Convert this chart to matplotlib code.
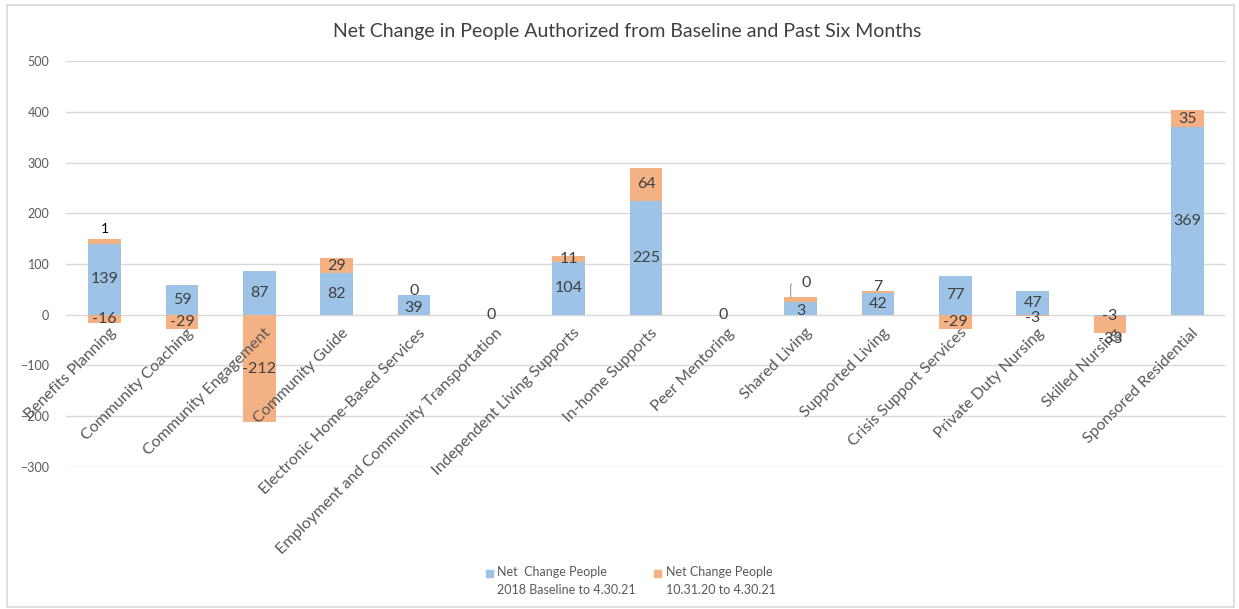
import matplotlib.pyplot as plt
from matplotlib.patches import Rectangle

plt.rcParams['font.family'] = ['Lato', 'DejaVu Sans']

categories = ['Benefits Planning', 'Community Coaching', 'Community Engagement',
              'Community Guide', 'Electronic Home-Based Services',
              'Employment and Community Transportation', 'Independent Living Supports',
              'In-home Supports', 'Peer Mentoring', 'Shared Living', 'Supported Living',
              'Crisis Support Services', 'Private Duty Nursing', 'Skilled Nursing',
              'Sponsored Residential']

# bar heights as drawn
blue = [139, 59, 87, 82, 39, 0, 104, 225, 0, 25, 42, 77, 47, -3, 369]
orange_up = [11, 0, 0, 29, 0, 0, 11, 64, 0, 9, 5, 0, 0, 0, 35]
orange_down = [-16, -29, -212, 0, 0, 0, 0, 0, 0, 0, 0, -29, -3, -33, 0]

# data label texts
blue_labels = ['139', '59', '87', '82', '39', '0', '104', '225', '0', '3', '42', '77', '47', '-3', '369']
up_labels = ['1', '', '', '29', '0', '', '11', '64', '', '0', '7', '', '', '', '35']
down_labels = ['-16', '-29', '-212', '', '', '', '', '', '', '', '', '-29', '-3', '-33', '']

legend_labels = ['Net  Change People\n2018 Baseline to 4.30.21',
                 'Net Change People\n10.31.20 to 4.30.21']

blue_c = '#9DC3E6'
orange_c = '#F4B183'
txt_c = '#404040'
grey_c = '#595959'

fig = plt.figure(figsize=(12.39, 6.09), dpi=100)
ax = fig.add_axes([0.0533, 0.2332, 0.9362, 0.6666])
fig.patches.append(Rectangle((0.006, 0.003), 0.99, 0.988, transform=fig.transFigure,
                             fill=False, edgecolor='#D9D9D9', linewidth=1.2))

x = list(range(len(categories)))
w = 0.42
ax.bar(x, blue, width=w, color=blue_c, zorder=2)
up_base = [b if b > 0 else 0 for b in blue]
down_base = [b if b < 0 else 0 for b in blue]
ax.bar(x, orange_up, width=w, bottom=up_base, color=orange_c, zorder=2)
ax.bar(x, orange_down, width=w, bottom=down_base, color=orange_c, zorder=2)

fs = 11.5
def lab(s, xy, dx=0, dy=0, va='center', color=txt_c, size=fs):
    ax.annotate(s, xy, xytext=(dx, dy), textcoords='offset points', ha='center',
                va=va, fontsize=size, color=color, zorder=8)

for i in x:
    b = blue[i]
    name = categories[i]
    if blue_labels[i]:
        if name.startswith('Shared') or name.startswith('Electronic'):
            lab(blue_labels[i], (i, b / 2), dy=-2)
        else:
            lab(blue_labels[i], (i, b / 2))
    u = orange_up[i]
    if up_labels[i]:
        top = up_base[i] + u
        if name.startswith('Shared'):
            ax.annotate(up_labels[i], (i - 0.13, top), xytext=(i + 0.07, top + 28),
                        ha='center', va='center', fontsize=fs, color=txt_c, zorder=8,
                        arrowprops=dict(arrowstyle='-', color='#A6A6A6', lw=0.9,
                                        connectionstyle='angle,angleA=0,angleB=90,rad=3',
                                        shrinkA=5, shrinkB=0))
        elif up_labels[i] == '1':
            lab(up_labels[i], (i, top), dy=7, color='black', size=fs - 1.5)
        elif u < 10:
            lab(up_labels[i], (i, top), dy=3)
        else:
            lab(up_labels[i], (i, up_base[i] + u / 2))
    d = orange_down[i]
    if down_labels[i]:
        yy = down_base[i] + d / 2
        off = 0
        if name.startswith('Skilled'):
            off = -10
        elif name.startswith('Private'):
            off = -2
        lab(down_labels[i], (i, yy), dy=off)

# category labels, drawn above the bars like Excel does
for i in x:
    ax.annotate(categories[i], (i, 0), xytext=(3, -8), textcoords='offset points',
                rotation=45, rotation_mode='anchor', ha='right', va='top',
                fontsize=11.5, color=grey_c, zorder=7)

ax.set_ylim(-300, 500)
ax.set_xlim(-0.5, len(categories) - 0.5)
ax.set_yticks(range(-300, 501, 100))
ax.set_xticks([])
ax.grid(axis='y', color='#D9D9D9', linewidth=1, zorder=0)
for s in ['top', 'right', 'left', 'bottom']:
    ax.spines[s].set_visible(False)
ax.tick_params(axis='y', length=0, labelsize=9, labelcolor=grey_c, pad=12)

fig.suptitle('Net Change in People Authorized from Baseline and Past Six Months',
             x=0.506, y=0.963, fontsize=14, color=txt_c)

# legend
for cx, col, txt in [(0.392, blue_c, legend_labels[0]), (0.528, orange_c, legend_labels[1])]:
    fig.patches.append(Rectangle((cx, 0.053), 0.0055, 0.011, transform=fig.transFigure,
                                 color=col))
    fig.text(cx + 0.0095, 0.07, txt, ha='left', va='top', fontsize=9,
             color=grey_c, linespacing=1.55)

fig.savefig('out.png', dpi=100)
